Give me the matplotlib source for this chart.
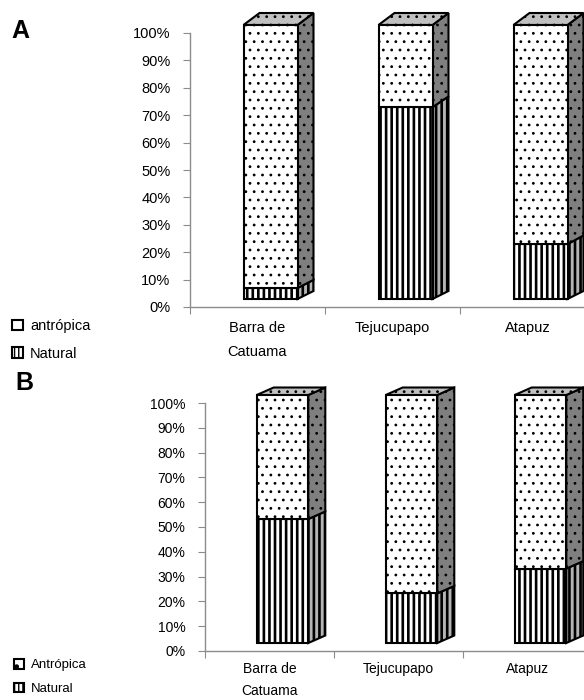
import numpy as np
import matplotlib.pyplot as plt
from matplotlib.patches import Polygon, Patch
from matplotlib.transforms import ScaledTranslation

plt.rcParams['font.family'] = ['Liberation Sans', 'DejaVu Sans']
plt.rcParams['hatch.linewidth'] = 1.0

# share of each disturbance type per site (%)
sites = ['Barra de\nCatuama', 'Tejucupapo', 'Atapuz']
natural_a = [4, 70, 20]
antropica_a = [96, 30, 80]
natural_b = [50, 20, 30]
antropica_b = [50, 80, 70]
pct_ticks = np.arange(0, 101, 10)

W, H = 584, 700
fig = plt.figure(figsize=(W / 100, H / 100), dpi=100)

EDGE = 'black'
AXIS_GREY = '#8c8c8c'
DOT_LW = 0.8
STRIPE_LW = 1.9


def hatch_lw(patch, lw):
    if hasattr(patch, 'set_hatch_linewidth'):
        patch.set_hatch_linewidth(lw)
    return patch


def add_axes_px(left, top, width, height):
    return fig.add_axes([left / W, 1 - (top + height) / H, width / W, height / H])


def draw_panel(ax, natural, antropica, fs, label_pad, line_sp,
               lift=8, shift=13, dx=17, dy0=8, dy1=8):
    ax.set_xlim(0, 3)
    ax.set_ylim(0, 100)
    p0 = ax.transData.transform((0, 0))
    p1 = ax.transData.transform((1, 1))
    upx, upy = p1 - p0
    # columns stand on a floor a little above/right of the axis line
    floor = ax.transData + ScaledTranslation(shift / 100, lift / 100, fig.dpi_scale_trans)
    centers = np.arange(len(sites)) + 0.5
    width = 0.4
    ddx = dx / upx

    def ddy(v):
        return (dy0 + (dy1 - dy0) * v / 100) / upy

    style = dict(edgecolor=EDGE, linewidth=1.5, transform=floor, clip_on=False)
    nat = ax.bar(centers, natural, width, color='white', hatch='|||', zorder=3, **style)
    ant = ax.bar(centers, antropica, width, bottom=natural, color='white', hatch='..',
                 zorder=3, **style)
    for r in nat:
        hatch_lw(r, STRIPE_LW)
    for r in ant:
        hatch_lw(r, DOT_LW)

    for c, n, a in zip(centers, natural, antropica):
        xl, xr = c - width / 2, c + width / 2
        top = n + a
        side_nat = [(xr, 0), (xr + ddx, ddy(0)), (xr + ddx, n + ddy(n)), (xr, n)]
        side_ant = [(xr, n), (xr + ddx, n + ddy(n)), (xr + ddx, top + ddy(top)), (xr, top)]
        lid = [(xl, top), (xl + ddx, top + ddy(top)), (xr + ddx, top + ddy(top)), (xr, top)]
        ax.add_patch(hatch_lw(Polygon(side_nat, facecolor='#b4b4b4', hatch='|||',
                                      zorder=2, **style), STRIPE_LW))
        ax.add_patch(hatch_lw(Polygon(side_ant, facecolor='#7f7f7f', hatch='..',
                                      zorder=2, **style), DOT_LW))
        ax.add_patch(hatch_lw(Polygon(lid, facecolor='#c0c0c0', hatch='..',
                                      zorder=2, **style), DOT_LW))

    for s in ['top', 'right']:
        ax.spines[s].set_visible(False)
    for s in ['left', 'bottom']:
        ax.spines[s].set_color(AXIS_GREY)
        ax.spines[s].set_linewidth(1.0)

    ax.set_yticks(pct_ticks, [f'{t}%' for t in pct_ticks])
    ax.tick_params(axis='y', direction='out', length=5, color=AXIS_GREY,
                   labelsize=fs, pad=9)
    ax.set_xticks(np.arange(4), [''] * 4)
    ax.set_xticks(centers, sites, minor=True)
    ax.tick_params(axis='x', which='major', direction='out', length=5, color=AXIS_GREY)
    ax.tick_params(axis='x', which='minor', length=0, labelsize=fs, pad=label_pad)
    for lab in ax.get_xticklabels(minor=True):
        lab.set_linespacing(line_sp)
    ax.set_facecolor('none')


ax_a = add_axes_px(190, 33, 405, 274)
draw_panel(ax_a, natural_a, antropica_a, fs=10.5, label_pad=10, line_sp=1.9,
           dx=16, dy0=8, dy1=12)

ax_b = add_axes_px(205, 403, 387, 248)
draw_panel(ax_b, natural_b, antropica_b, fs=10, label_pad=8, line_sp=1.75,
           dx=17, dy0=7.5, dy1=7.5)

fig.text(11 / W, 1 - 31 / H, 'A', fontsize=18, fontweight='bold', va='center')
fig.text(15 / W, 1 - 383 / H, 'B', fontsize=18, fontweight='bold', va='center')


def legend_handles():
    return [hatch_lw(Patch(facecolor='white', edgecolor=EDGE, hatch='.', linewidth=1.5), DOT_LW),
            hatch_lw(Patch(facecolor='white', edgecolor=EDGE, hatch='||||', linewidth=1.5), 2.4)]


leg_kw = dict(loc='upper left', frameon=False, handlelength=0.75, handleheight=0.75,
              handletextpad=0.5, borderpad=0, borderaxespad=0)
fig.legend(legend_handles(), ['antrópica', 'Natural'], labelspacing=0.95,
           bbox_to_anchor=(12 / W, 1 - 319 / H), fontsize=10.5, **leg_kw)
fig.legend(legend_handles(), ['Antrópica', 'Natural'], labelspacing=0.85,
           bbox_to_anchor=(14 / W, 1 - 659 / H), fontsize=9.5, **leg_kw)

fig.savefig('out.png', dpi=100)
